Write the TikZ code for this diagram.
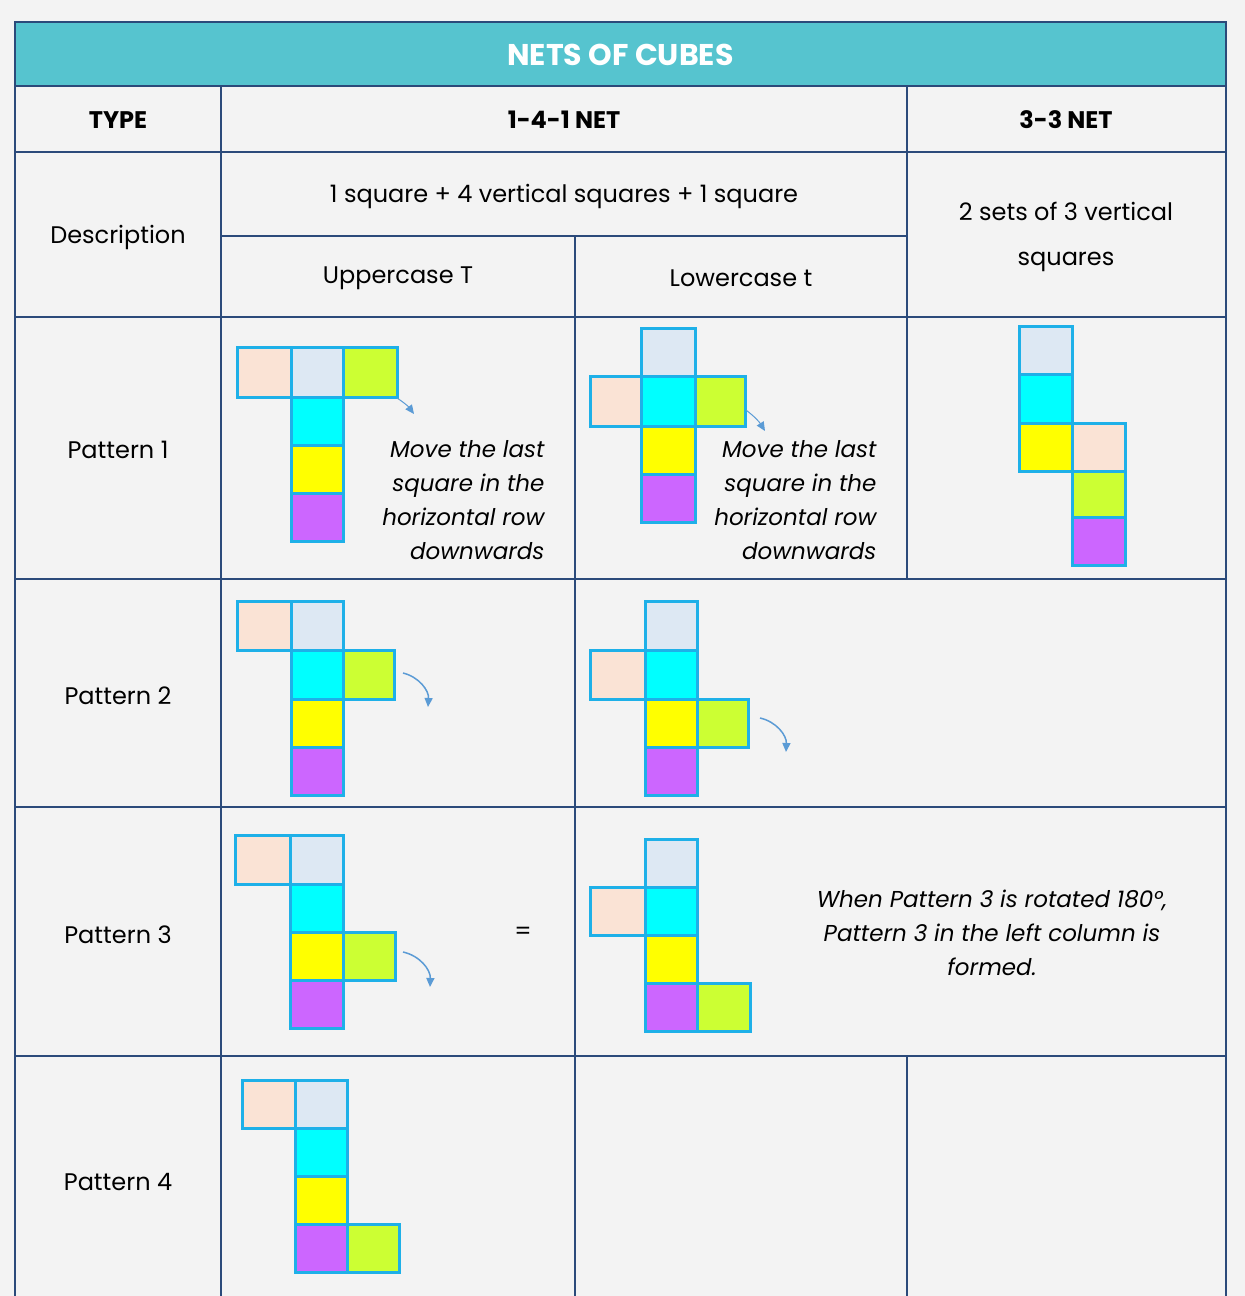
\documentclass[tikz,border=0pt]{standalone}
\usepackage{fontspec}
\setmainfont{Poppins}
\usetikzlibrary{arrows.meta}
\definecolor{bg}{HTML}{F3F3F3}
\definecolor{teal}{HTML}{56C4CF}
\definecolor{navy}{HTML}{2B4A7A}
\definecolor{brd}{HTML}{1EB0E8}
\definecolor{pch}{HTML}{FAE3D5}
\definecolor{lbl}{HTML}{DDE8F3}
\definecolor{grn}{HTML}{CCFF33}
\definecolor{cyn}{HTML}{00FFFF}
\definecolor{yel}{HTML}{FFFF00}
\definecolor{pur}{HTML}{CC66FF}
\definecolor{arr}{HTML}{5B9BD5}
\newcommand{\sq}[5]{\draw[fill=#5,draw=brd,line width=3pt] (#1,#2) rectangle (#3,#4);}
\tikzset{grid/.style={draw=navy,line width=1.5pt},
 txt/.style={font=\fontsize{24}{28}\selectfont,text=black},
 hdr/.style={font=\fontsize{24}{28}\selectfont\bfseries},
 it/.style={font=\fontsize{23}{34}\selectfont\itshape,align=right,anchor=east},
 mv/.style={-{Triangle[length=9pt,width=8pt]},draw=arr,line width=1.5pt}}
\begin{document}
\begin{tikzpicture}[x=1pt,y=-1pt]
\fill[bg] (0,0) rectangle (1245,1296);
\useasboundingbox (0,0) rectangle (1245,1296);
\fill[teal] (15,22) rectangle (1226,86);
\node[font=\fontsize{30}{34}\selectfont\bfseries,text=white] (title) at (620.5,55) {NETS OF CUBES};
% grid
\draw[grid] (15,22) rectangle (1226,1300);
\draw[grid] (15,86) -- (1226,86);
\draw[grid] (15,152) -- (1226,152);
\draw[grid] (221,236) -- (907,236);
\draw[grid] (15,317) -- (1226,317);
\draw[grid] (15,579) -- (1226,579);
\draw[grid] (15,807) -- (1226,807);
\draw[grid] (15,1056) -- (1226,1056);
\draw[grid] (221,86) -- (221,1300);
\draw[grid] (907,86) -- (907,579);
\draw[grid] (907,1056) -- (907,1300);
\draw[grid] (575,236) -- (575,1300);
% text
\node[hdr] (h1) at (118,120) {TYPE};
\node[hdr] (h2) at (564,120) {1-4-1 NET};
\node[hdr] (h3) at (1066,120) {3-3 NET};
\node[txt] (d0) at (118,237) {Description};
\node[txt] (d1) at (564,196) {1 square + 4 vertical squares + 1 square};
\node[txt] (d2) at (398,278) {Uppercase T};
\node[txt] (d3) at (741,278) {Lowercase t};
\node[txt,align=center,font=\fontsize{24}{45}\selectfont] (d4) at (1066,237) {2 sets of 3 vertical\\squares};
\node[txt] (p1) at (118,450) {Pattern 1};
\node[txt] (p2) at (118,696) {Pattern 2};
\node[txt] (p3) at (118,935) {Pattern 3};
\node[txt] (p4) at (118,1182) {Pattern 4};
\node[it] (m1) at (548,500) {Move the last\\square in the\\horizontal row\\downwards};
\node[it] (m2) at (880,500) {Move the last\\square in the\\horizontal row\\downwards};
\node[txt] (eq) at (523,933) {=};
\node[font=\fontsize{23}{34}\selectfont\itshape,align=center] (rot) at (992,933) {When Pattern 3 is rotated 180°,\\Pattern 3 in the left column is\\formed.};
% P1 col1
\sq{237}{347}{291}{397}{pch}\sq{291}{347}{343}{397}{lbl}\sq{343}{347}{397}{397}{grn}
\sq{291}{397}{343}{445}{cyn}\sq{291}{445}{343}{493}{yel}\sq{291}{493}{343}{541}{pur}
\draw[mv,line width=1pt] (397,398) to[bend left=10] (414,414);
% P1 col2
\sq{641}{328}{695}{376}{lbl}\sq{590}{376}{641}{426}{pch}\sq{641}{376}{695}{426}{cyn}\sq{695}{376}{745}{426}{grn}
\sq{641}{426}{695}{474}{yel}\sq{641}{474}{695}{522}{pur}
\draw[mv,line width=1pt] (746,410) to[bend left=10] (765,431);
% P1 col3
\sq{1019}{326}{1072}{374}{lbl}\sq{1019}{374}{1072}{423}{cyn}\sq{1019}{423}{1072}{471}{yel}
\sq{1072}{423}{1125}{471}{pch}\sq{1072}{471}{1125}{517}{grn}\sq{1072}{517}{1125}{565}{pur}
% P2 col1
\sq{237}{601}{291}{650}{pch}\sq{291}{601}{343}{650}{lbl}\sq{291}{650}{343}{699}{cyn}\sq{343}{650}{394}{699}{grn}
\sq{291}{699}{343}{747}{yel}\sq{291}{747}{343}{795}{pur}
\draw[mv] (403,673) to[bend left=40] (428,707);
% P2 col2
\sq{645}{601}{697}{650}{lbl}\sq{590}{650}{645}{699}{pch}\sq{645}{650}{697}{699}{cyn}
\sq{645}{699}{697}{747}{yel}\sq{697}{699}{748}{747}{grn}\sq{645}{747}{697}{795}{pur}
\draw[mv] (760,718) to[bend left=40] (786,752);
% P3 col1
\sq{235}{835}{290}{884}{pch}\sq{290}{835}{343}{884}{lbl}\sq{290}{884}{343}{932}{cyn}
\sq{290}{932}{343}{980}{yel}\sq{343}{932}{395}{980}{grn}\sq{290}{980}{343}{1028}{pur}
\draw[mv] (403,952) to[bend left=40] (430,987);
% P3 col2
\sq{645}{839}{697}{887}{lbl}\sq{590}{887}{645}{935}{pch}\sq{645}{887}{697}{935}{cyn}
\sq{645}{935}{697}{983}{yel}\sq{645}{983}{697}{1031}{pur}\sq{697}{983}{750}{1031}{grn}
% P4
\sq{242}{1080}{295}{1128}{pch}\sq{295}{1080}{347}{1128}{lbl}\sq{295}{1128}{347}{1176}{cyn}
\sq{295}{1176}{347}{1224}{yel}\sq{295}{1224}{347}{1272}{pur}\sq{347}{1224}{399}{1272}{grn}
\end{tikzpicture}
\end{document}
